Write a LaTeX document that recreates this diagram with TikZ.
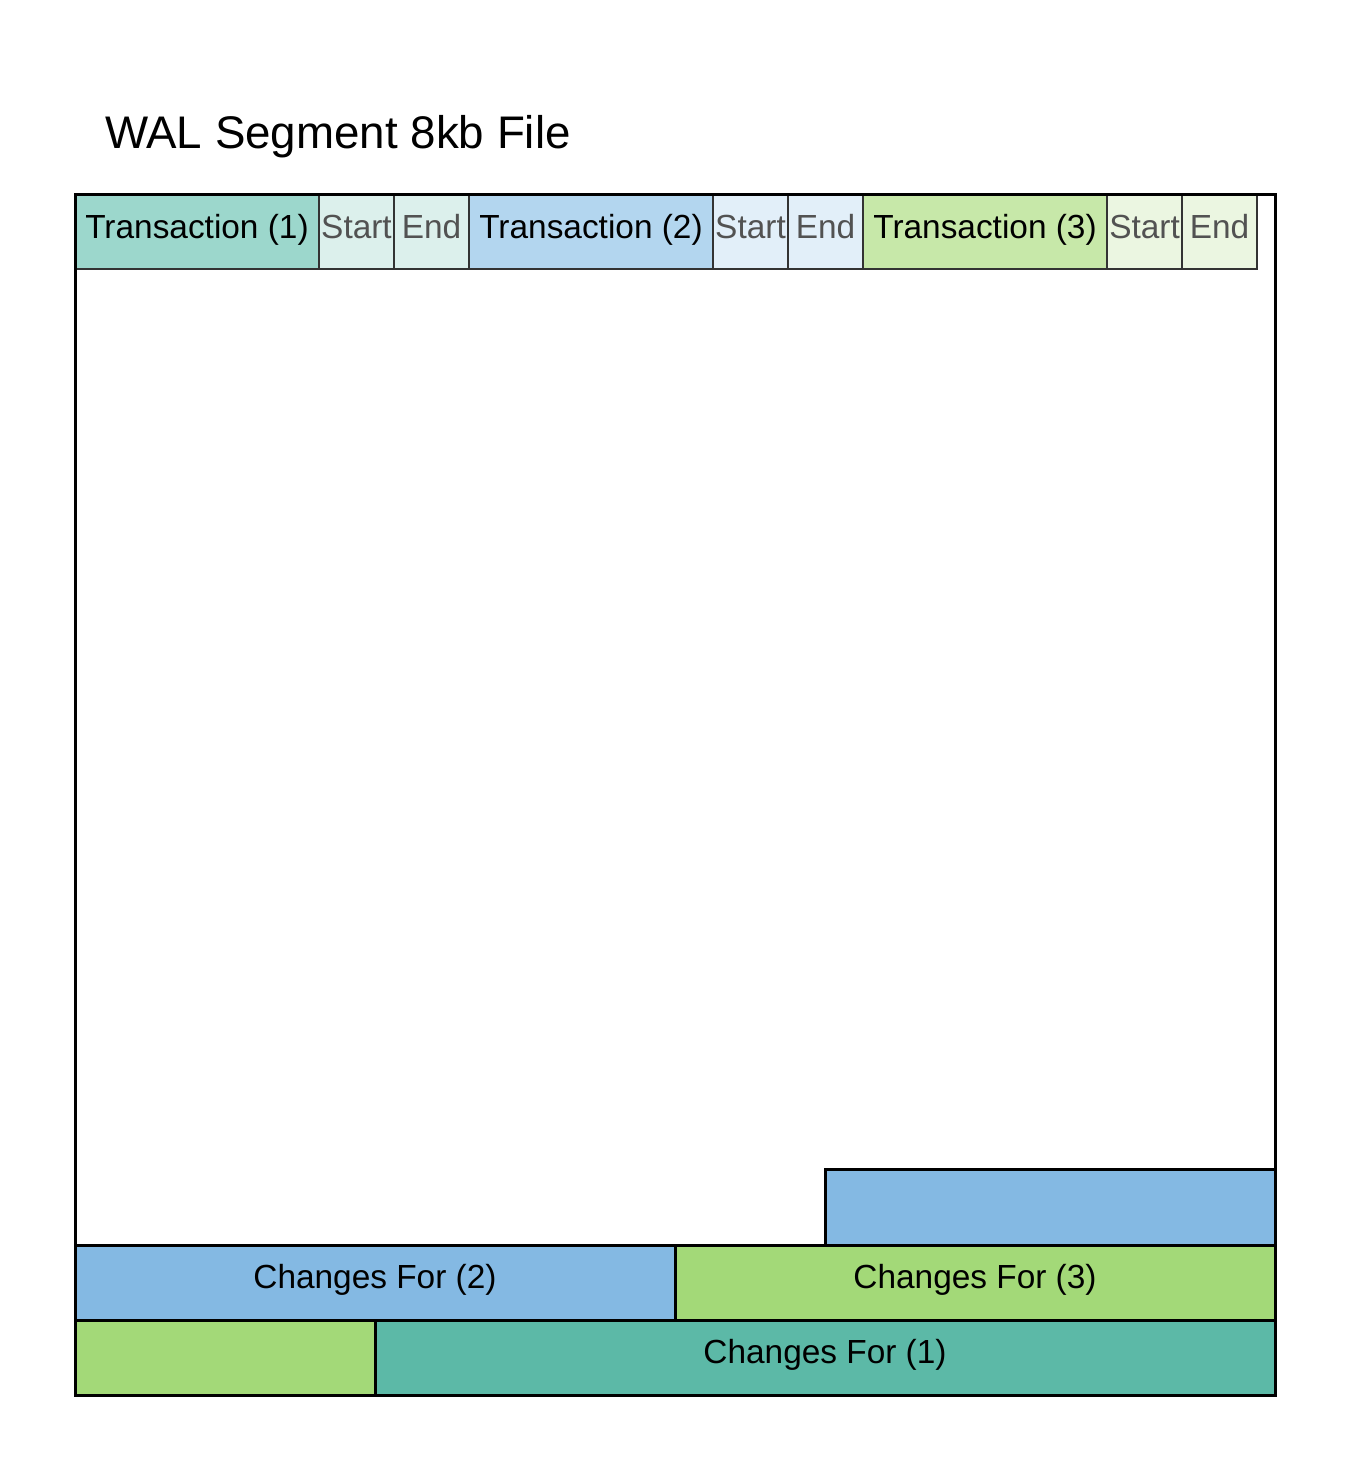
\documentclass[tikz,border=0pt]{standalone}
\usepackage{fontspec}
\setmainfont{Liberation Sans}
\usetikzlibrary{positioning}

\definecolor{txone}{HTML}{9CD7CC}
\definecolor{txonelight}{HTML}{DCF0EC}
\definecolor{txtwo}{HTML}{B3D6EF}
\definecolor{txtwolight}{HTML}{E2EFF9}
\definecolor{txthree}{HTML}{C7E8A9}
\definecolor{txthreelight}{HTML}{EBF6E1}
\definecolor{chgone}{HTML}{5CB9A7}
\definecolor{chgtwo}{HTML}{84B9E3}
\definecolor{chgthree}{HTML}{A3D978}

\begin{document}
\begin{tikzpicture}[x=0.5pt, y=-0.5pt,
        cell/.style={draw=black!80, line width=1.1pt, outer sep=0, inner sep=0, minimum height=37pt, text height=11pt, text depth=4.6pt, font=\fontsize{16.7}{20}\selectfont},
        txcell/.style={cell, minimum width=122pt},
        markcell/.style={cell, minimum width=37.5pt, text=black!68},
        chgcell/.style={draw, line width=1.5pt, outer sep=0, inner sep=0, minimum height=37.5pt, text height=11pt, text depth=4.6pt, font=\fontsize{16.7}{20}\selectfont},
        frame/.style={draw, line width=1.5pt, outer sep=0, minimum width=600pt, minimum height=600pt}]
        \useasboundingbox (0,0) rectangle (1350,1470);
        \node[anchor=base west, font=\fontsize{22.85}{27}\selectfont] (title) at (98,149) {WAL Segment 8kb File};

        % header row
        \node[txcell, fill=txone, anchor=north west] (tx1) at (75,195) {Transaction (1)};
        \node[markcell, fill=txonelight, right=0 of tx1] (start1) {Start};
        \node[markcell, fill=txonelight, right=0 of start1] (end1) {End};
        \node[txcell, fill=txtwo, right=0 of end1] (tx2) {Transaction (2)};
        \node[markcell, fill=txtwolight, right=0 of tx2] (start2) {Start};
        \node[markcell, fill=txtwolight, right=0 of start2] (end2) {End};
        \node[txcell, fill=txthree, right=0 of end2] (tx3) {Transaction (3)};
        \node[markcell, fill=txthreelight, right=0 of tx3] (start3) {Start};
        \node[markcell, fill=txthreelight, right=0 of start3] (end3) {End};

        % changes at the end of the segment
        \node[chgcell, fill=chgtwo, minimum width=300pt, anchor=north west] (changes2) at (75,1245) {Changes For (2)};
        \node[chgcell, fill=chgthree, minimum width=300pt, right=0 of changes2] (changes3) {Changes For (3)};
        \node[chgcell, fill=chgtwo, minimum width=225pt, minimum height=38pt, anchor=south east] (rest2) at (changes3.north east) {};
        \node[chgcell, fill=chgthree, minimum width=150pt, anchor=north west] (rest3) at (changes2.south west) {};
        \node[chgcell, fill=chgone, minimum width=450pt, right=0 of rest3] (changes1) {Changes For (1)};

        \node[frame, anchor=north west] (segment) at (75,195) {};
\end{tikzpicture}
\end{document}
